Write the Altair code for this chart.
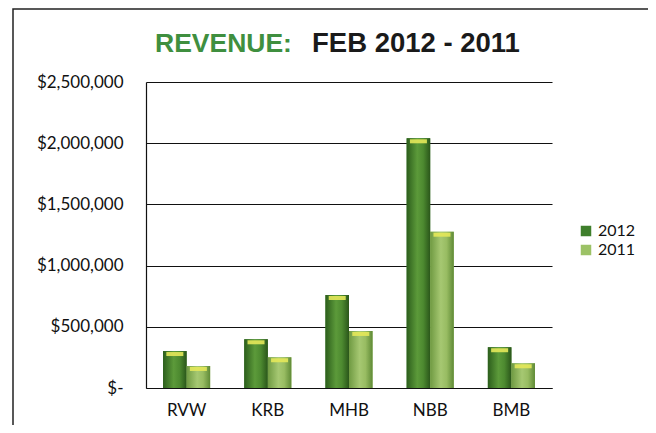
import altair as alt
import pandas as pd

stores = ["RVW", "KRB", "MHB", "NBB", "BMB"]
years = ["2012", "2011"]
rev_2012 = [302000, 398000, 760000, 2040000, 333000]
rev_2011 = [180000, 251000, 466000, 1277000, 202000]
y_ticks = [0, 500000, 1000000, 1500000, 2000000, 2500000]

rows = []
for s, a, b in zip(stores, rev_2012, rev_2011):
    rows.append({"Store": s, "Year": "2012", "Revenue": a})
    rows.append({"Store": s, "Year": "2011", "Revenue": b})
df = pd.DataFrame(rows)

W, H = 406, 306
FONT = "Lato"

x_enc = alt.X("Store:N", sort=stores, title=None,
              scale=alt.Scale(paddingInner=0.42, paddingOuter=0.21),
              axis=alt.Axis(labelFont=FONT, labelFontSize=17, labelColor="#111",
                            labelAngle=0, ticks=False, labelPadding=14,
                            domainColor="#111", domainWidth=1.2))
y_enc = alt.Y("Revenue:Q", title=None,
              scale=alt.Scale(domain=[0, 2500000], nice=False),
              axis=alt.Axis(values=y_ticks, labelFont=FONT, labelFontSize=17,
                            labelColor="#111", ticks=False, labelPadding=23,
                            gridColor="#111", gridWidth=1.1,
                            domainColor="#111", domainWidth=1.2,
                            labelExpr="datum.value == 0 ? '$-' : '$' + format(datum.value, ',.0f')"))
xo = alt.XOffset("Year:N", sort=years, scale=alt.Scale(domain=years))

base = alt.Chart(df)

legend_bars = base.mark_bar().encode(
    x=x_enc, y=y_enc, xOffset=xo,
    color=alt.Color("Year:N", sort=years,
                    scale=alt.Scale(domain=years, range=["#3f7f2c", "#9cc266"]),
                    legend=alt.Legend(title=None, orient="none", legendX=432, legendY=141,
                                      symbolType="square", symbolSize=110,
                                      symbolStrokeWidth=0, labelFont=FONT,
                                      labelFontSize=16, labelColor="#111",
                                      rowPadding=3, symbolOffset=0)),
)

grad_2012 = {"gradient": "linear", "x1": 0, "x2": 1, "y1": 0, "y2": 0,
             "stops": [{"offset": 0, "color": "#2c5e1c"},
                       {"offset": 0.45, "color": "#5c9a3a"},
                       {"offset": 0.7, "color": "#4d8a30"},
                       {"offset": 1, "color": "#2a561a"}]}
grad_2011 = {"gradient": "linear", "x1": 0, "x2": 1, "y1": 0, "y2": 0,
             "stops": [{"offset": 0, "color": "#6f9a42"},
                       {"offset": 0.45, "color": "#a6c872"},
                       {"offset": 0.7, "color": "#98bc62"},
                       {"offset": 1, "color": "#5f8a36"}]}

bars12 = base.transform_filter(alt.datum.Year == "2012").mark_bar(fill=grad_2012).encode(
    x=x_enc, y=y_enc, xOffset=xo)
bars11 = base.transform_filter(alt.datum.Year == "2011").mark_bar(fill=grad_2011).encode(
    x=x_enc, y=y_enc, xOffset=xo)

caps = base.mark_tick(color="#e4e85a", thickness=4, size=17, opacity=0.9, yOffset=3).encode(
    x=x_enc, y=y_enc, xOffset=xo)

one = alt.Chart(pd.DataFrame({"t": ["REVENUE:"]}))
title1 = one.mark_text(text="REVENUE:", font="Liberation Sans", fontSize=26.5, fontWeight="bold",
                       color="#3f8f3f", align="left", baseline="alphabetic").encode(
    x=alt.value(9), y=alt.value(-30))
title2 = one.mark_text(text="FEB 2012 - 2011", font="Liberation Sans", fontSize=27.5,
                       fontWeight="bold", color="#1a1a1a", align="left",
                       baseline="alphabetic").encode(x=alt.value(166), y=alt.value(-30))
frame = one.mark_rect(fill=None, stroke="#222", strokeWidth=1.5).encode(
    x=alt.value(-133), x2=alt.value(540), y=alt.value(-73), y2=alt.value(380))

chart = alt.layer(frame, legend_bars, bars12, bars11, caps, title1, title2).properties(
    width=W, height=H,
    background="white",
    autosize=alt.AutoSizeParams(type="none"),
    padding={"left": 138, "top": 74, "right": 96, "bottom": 37},
).configure_view(strokeWidth=0, stroke="transparent")

chart.save("out.html", embed_options={"renderer": "svg", "actions": False})
